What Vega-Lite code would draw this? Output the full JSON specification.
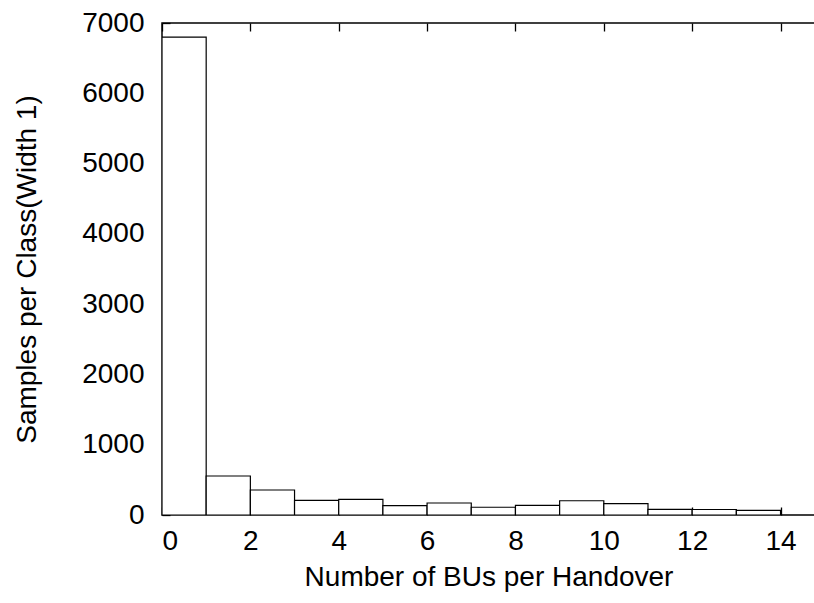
{
  "$schema": "https://vega.github.io/schema/vega-lite/v6.json",
  "width": 653,
  "height": 492,
  "autosize": {"type": "none"},
  "padding": {"left": 162, "top": 23, "right": 0, "bottom": 88},
  "background": "white",
  "config": {
    "view": {"stroke": "#000", "strokeWidth": 1.5},
    "font": "Liberation Sans",
    "axis": {
      "domain": false,
      "grid": false,
      "tickColor": "#000",
      "tickWidth": 1.3,
      "labelColor": "#000",
      "titleColor": "#000",
      "labelFont": "Liberation Sans",
      "titleFont": "Liberation Sans",
      "labelFontSize": 28,
      "titleFontSize": 28,
      "titleFontWeight": "normal"
    }
  },
  "data": {
    "values": [
      {"start": 0, "end": 1, "count": 6800},
      {"start": 1, "end": 2, "count": 555},
      {"start": 2, "end": 3, "count": 356},
      {"start": 3, "end": 4, "count": 209},
      {"start": 4, "end": 5, "count": 223},
      {"start": 5, "end": 6, "count": 133},
      {"start": 6, "end": 7, "count": 171},
      {"start": 7, "end": 8, "count": 110},
      {"start": 8, "end": 9, "count": 138},
      {"start": 9, "end": 10, "count": 203},
      {"start": 10, "end": 11, "count": 161},
      {"start": 11, "end": 12, "count": 81},
      {"start": 12, "end": 13, "count": 78},
      {"start": 13, "end": 14, "count": 67}
    ]
  },
  "layer": [
    {
      "mark": {"type": "bar", "fill": "white", "stroke": "#000", "strokeWidth": 1.2, "clip": true},
      "encoding": {
        "x": {
          "field": "start", "type": "quantitative",
          "scale": {"domain": [0, 14.78], "nice": false, "zero": false},
          "axis": {
            "orient": "bottom",
            "values": [0, 2, 4, 6, 8, 10, 12, 14],
            "format": "d",
            "tickSize": -8,
            "labelPadding": 20,
            "title": "Number of BUs per Handover",
            "titlePadding": 8
          }
        },
        "x2": {"field": "end"},
        "y": {
          "field": "count", "type": "quantitative",
          "scale": {"domain": [0, 7000], "nice": false},
          "axis": {
            "values": [0, 1000, 2000, 3000, 4000, 5000, 6000, 7000],
            "format": "d",
            "tickSize": -8,
            "labelPadding": 26,
            "title": "Samples per Class(Width 1)",
            "titlePadding": 40
          }
        },
        "y2": {"datum": 0}
      }
    },
    {
      "mark": {"type": "point", "opacity": 0},
      "encoding": {
        "x": {
          "field": "start", "type": "quantitative",
          "scale": {"domain": [0, 14.78], "nice": false, "zero": false},
          "axis": {
            "orient": "top",
            "values": [0, 2, 4, 6, 8, 10, 12, 14],
            "tickSize": -8,
            "labels": false,
            "title": null
          }
        },
        "y": {"field": "count", "type": "quantitative"}
      }
    }
  ],
  "resolve": {"scale": {"x": "independent"}, "axis": {"x": "independent"}}
}
